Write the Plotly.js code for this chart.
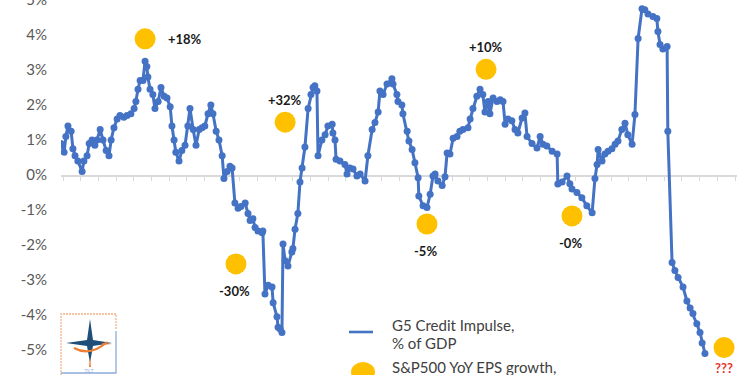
<!DOCTYPE html>
<html><head><meta charset="utf-8">
<script src="https://cdn.plot.ly/plotly-3.0.1.min.js"></script>
<style>html,body{margin:0;padding:0;background:#fff}#chart{width:750px;height:375px}</style>
</head><body><div id="chart"></div>
<script>
// G5 credit impulse, % of GDP (x = decimal year)
const impulseYear = [
2003.94,2004.03,2004.08,2004.14,2004.23,2004.28,2004.34,2004.42,2004.54,2004.59,
2004.68,2004.74,2004.82,2004.90,2004.96,2005.05,2005.13,2005.22,2005.30,2005.36,
2005.44,2005.53,2005.61,2005.72,2005.81,2005.92,2006.01,2006.06,2006.12,2006.18,
2006.26,2006.32,2006.37,2006.40,2006.46,2006.54,2006.60,2006.69,2006.77,2006.86,
2006.94,2007.03,2007.08,2007.14,2007.19,2007.28,2007.36,2007.45,2007.53,2007.59,
2007.68,2007.76,2007.85,2007.93,2008.01,2008.10,2008.18,2008.24,2008.33,2008.41,
2008.50,2008.55,2008.64,2008.72,2008.78,2008.86,2008.95,2009.03,2009.15,2009.23,
2009.29,2009.37,2009.43,2009.51,2009.63,2009.65,2009.71,2009.80,2009.91,2009.94,
2010.05,2010.08,2010.14,2010.19,2010.22,2010.28,2010.36,2010.47,2010.50,2010.56,
2010.64,2010.70,2010.76,2010.84,2010.93,2011.01,2011.07,2011.12,2011.18,2011.21,
2011.32,2011.41,2011.49,2011.61,2011.63,2011.69,2011.72,2011.83,2011.97,2012.03,
2012.11,2012.20,2012.31,2012.40,2012.54,2012.62,2012.74,2012.82,2012.91,2012.96,
2013.05,2013.16,2013.30,2013.33,2013.44,2013.47,2013.58,2013.61,2013.73,2013.78,
2013.87,2013.95,2014.04,2014.06,2014.18,2014.29,2014.38,2014.46,2014.52,2014.60,
2014.72,2014.80,2014.86,2014.94,2015.03,2015.14,2015.22,2015.31,2015.45,2015.51,
2015.59,2015.70,2015.79,2015.87,2015.93,2016.02,2016.07,2016.16,2016.27,2016.36,
2016.44,2016.50,2016.58,2016.69,2016.78,2016.86,2016.98,2017.06,2017.12,2017.26,
2017.40,2017.49,2017.57,2017.68,2017.83,2017.97,2017.99,2018.11,2018.25,2018.33,
2018.39,2018.53,2018.67,2018.81,2018.96,2019.04,2019.10,2019.13,2019.24,2019.32,
2019.41,2019.52,2019.61,2019.69,2019.80,2019.89,2019.97,2020.09,2020.17,2020.26,
2020.37,2020.45,2020.54,2020.68,2020.79,2020.82,2020.88,2020.96,2021.08,2021.10,
2021.22,2021.30,2021.39,2021.53,2021.64,2021.73,2021.81,2021.92,2022.01,2022.07,
2022.15
];
const impulsePct = [
0.9,0.65,1.1,1.4,1.25,0.75,0.55,0.4,0.1,0.4,
0.55,0.9,1.0,0.85,1.0,1.3,1.0,0.7,0.55,1.0,
1.35,1.6,1.7,1.65,1.7,1.75,1.9,2.1,2.45,2.7,
2.7,3.25,3.1,2.8,2.45,2.3,1.9,2.1,2.5,2.25,
2.2,1.95,1.4,1.0,0.65,0.4,0.7,0.85,1.4,1.9,
1.3,0.85,1.3,1.35,1.4,1.75,2.0,1.75,1.25,1.0,
0.55,-0.1,0.1,0.25,0.2,-0.8,-0.95,-0.9,-0.8,-1.1,
-1.3,-1.25,-1.5,-1.6,-1.65,-1.6,-3.4,-3.15,-3.2,-3.65,
-4.05,-4.35,-4.4,-4.5,-1.97,-2.45,-2.6,-2.2,-2.1,-1.55,
-1.1,-0.2,0.2,0.8,1.9,2.3,2.5,2.55,2.4,0.55,
1.0,1.15,1.4,1.45,1.2,1.0,0.45,0.4,0.3,0.03,
0.2,0.17,-0.03,0.03,-0.17,0.55,1.3,1.5,1.8,2.4,
2.3,2.6,2.75,2.6,2.3,2.1,2.0,1.75,1.25,0.97,
0.73,0.35,-0.08,-0.6,-0.88,-0.93,-0.55,-0.03,0.03,-0.17,
-0.3,-0.05,0.63,0.6,1.05,1.1,1.25,1.3,1.35,1.6,
1.9,2.25,2.45,2.3,1.8,2.1,1.75,2.2,2.1,2.15,
2.1,1.45,1.6,1.55,1.3,1.2,1.63,1.77,1.1,0.9,
0.77,1.1,0.88,0.83,0.68,0.6,-0.26,-0.2,-0.03,-0.25,
-0.4,-0.5,-0.65,-0.88,-1.08,-0.1,0.3,0.73,0.4,0.6,
0.68,0.75,0.88,0.97,1.3,1.48,1.15,0.88,1.73,3.9,
4.75,4.72,4.6,4.53,4.47,4.1,3.73,3.6,3.67,1.25,
-2.5,-2.73,-2.93,-3.2,-3.6,-3.8,-3.96,-4.25,-4.5,-4.8,
-5.1
];

// S&P500 YoY EPS growth markers (placed on the chart's % scale) and their labels
const epsYear = [2006.32, 2008.89, 2010.28, 2014.29, 2015.96, 2018.39, 2022.69];
const epsMarkerPct = [3.89, -2.54, 1.51, -1.40, 3.02, -1.17, -4.93];
const epsLabel = ['+18%', '-30%', '+32%', '-5%', '+10%', '-0%', '???'];

const yTickVals = [-5, -4, -3, -2, -1, 0, 1, 2, 3, 4, 5];
const yTickText = ['-5%', '-4%', '-3%', '-2%', '-1%', '0%', '1%', '2%', '3%', '4%', '5%'];

const legendNames = ['G5 Credit Impulse,', '% of GDP', 'S&P500 YoY EPS growth,'];

// ---- presentation ----
const labelPlacement = ['right', 'below', 'above', 'below', 'above', 'below', 'belowNear'];
const labelColor = ['#1a1a1a', '#1a1a1a', '#1a1a1a', '#1a1a1a', '#1a1a1a', '#1a1a1a', '#E8352B'];
const BLUE = '#4472C4', GOLD = '#FFC000';
const FONT = 'Lato, "Open Sans", sans-serif';

const W = 750, H = 375, ML = 61, MR = 13;
const PW = W - ML - MR;
const yMax = 5, pxPerUnit = 35;
const yMin = yMax - H / pxPerUnit;
const px = v => (v - ML) / PW;        // pixel -> paper x
const py = v => (H - v) / H;          // pixel -> paper y

const shiftFor = {right: [40, 0], above: [0, 22], below: [-1, -27], belowNear: [0, -20]};
const annotations = epsLabel.map((t, i) => ({
  x: epsYear[i], y: epsMarkerPct[i], xref: 'x', yref: 'y',
  text: '<b>' + t + '</b>', showarrow: false,
  xshift: shiftFor[labelPlacement[i]][0], yshift: shiftFor[labelPlacement[i]][1],
  font: {family: FONT, size: 13, color: labelColor[i]}
}));
// hand-built legend (the original legend runs off the bottom edge)
const legendY = [325, 343, 367];
legendNames.forEach((t, i) => annotations.push({
  xref: 'paper', yref: 'paper', x: px(390), y: py(legendY[i]), xanchor: 'left', yanchor: 'middle',
  text: t, showarrow: false, font: {family: FONT, size: 15, color: '#404040'}
}));

const shapes = [
  {type: 'line', xref: 'paper', yref: 'paper', x0: px(349), x1: px(373), y0: py(332), y1: py(332),
   line: {color: BLUE, width: 2.6}},
  {type: 'circle', xref: 'paper', yref: 'paper', x0: px(351), x1: px(375), y0: py(362), y1: py(382),
   fillcolor: GOLD, line: {width: 0}}
];

const logoSvg =
 "<svg xmlns='http://www.w3.org/2000/svg' width='58' height='62' viewBox='0 0 58 62'>" +
 "<path d='M1 62 V1 H56 V16' fill='none' stroke='#F4B183' stroke-width='1.3' stroke-dasharray='2 1'/>" +
 "<path d='M56 18 V60 H1' fill='none' stroke='#8FAADC' stroke-width='1.3'/>" +
 "<path d='M30 6 L33 27 L52 30 L33 33 L30 50 L27 33 L6 30 L27 27 Z' fill='#1F4E79'/>" +
 "<path d='M14 35 Q30 44 47 29' fill='none' stroke='#ED7D31' stroke-width='2.2'/>" +
 "<path d='M30 44 L31 54 L29 54 Z' fill='#ED7D31'/>" +
 "<path d='M42 30 L52 31 L42 32 Z' fill='#ED7D31'/>" +
 "<text x='29' y='60' font-size='4.5' text-anchor='middle' fill='#8FAADC' font-family='sans-serif'>TILT</text>" +
 "</svg>";

const traces = [
  {x: impulseYear, y: impulsePct, type: 'scatter', mode: 'lines+markers',
   name: legendNames[0] + ' ' + legendNames[1], line: {color: BLUE, width: 3},
   marker: {color: BLUE, size: 7}},
  {x: epsYear, y: epsMarkerPct, type: 'scatter', mode: 'markers',
   name: legendNames[2], marker: {color: GOLD, size: 21}}
];

const layout = {
  width: W, height: H,
  margin: {l: ML, r: MR, t: 0, b: 0},
  paper_bgcolor: '#fff', plot_bgcolor: '#fff',
  font: {family: FONT, color: '#595959'},
  showlegend: false,
  xaxis: {range: [2003.943, 2023.056], showticklabels: false, showgrid: false, zeroline: false,
          showline: true, linecolor: '#d9d9d9', linewidth: 1.5,
          ticks: 'outside', ticklen: 4, tickcolor: '#d9d9d9', tickwidth: 1,
          tick0: 2004, dtick: 0.5, anchor: 'free', position: (0 - yMin) / (yMax - yMin),
          layer: 'below traces'},
  yaxis: {range: [yMin, yMax], tickmode: 'array', tickvals: yTickVals, ticktext: yTickText,
          showgrid: false, zeroline: false, showline: false, ticks: '',
          tickfont: {family: FONT, size: 15, color: '#595959'}, ticklabelstandoff: 13,
          ticklabeloverflow: 'allow', automargin: false},
  annotations: annotations,
  shapes: shapes,
  images: [{source: 'data:image/svg+xml;base64,' + btoa(logoSvg), xref: 'paper', yref: 'paper',
            x: px(60), y: py(313), sizex: 58 / PW, sizey: 62 / H, xanchor: 'left', yanchor: 'top',
            sizing: 'stretch', layer: 'above'}]
};

Plotly.newPlot('chart', traces, layout, {displayModeBar: false, staticPlot: true});
</script>
</body></html>
